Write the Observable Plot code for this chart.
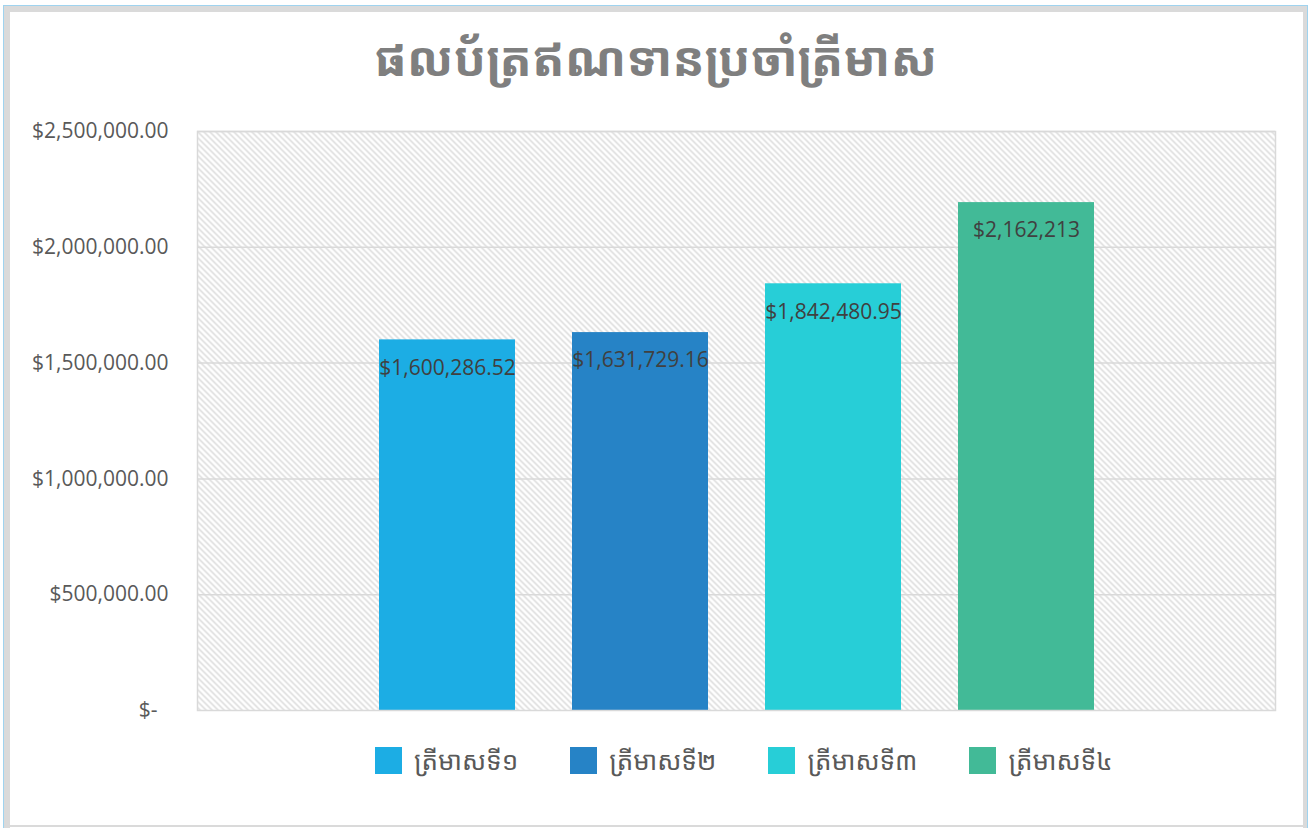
<!DOCTYPE html>
<html>
<head>
<meta charset="utf-8">
<script src="https://cdn.jsdelivr.net/npm/d3@7"></script>
<script src="https://cdn.jsdelivr.net/npm/@observablehq/plot@0.6"></script>
<style>
  html, body { margin: 0; padding: 0; background: #fff; }
  #wrap { position: relative; width: 1311px; height: 828px; overflow: hidden; font-family: "Open Sans", "Noto Sans", sans-serif; }
  #outer { position: absolute; left: 3px; top: 5px; width: 1305px; height: 830px; border-left: 1px solid #9fd3ef; border-top: 1px solid #9fd3ef; border-right: 1px solid #9fd3ef; box-sizing: border-box; }
  #inner { position: absolute; left: 0; top: 0; right: 0; bottom: 0; border-left: 6px solid #dadada; border-top: 6px solid #dadada; border-right: 4px solid #dadada; box-sizing: border-box; }
  #bottomline { position: absolute; left: 4px; top: 825px; width: 1300px; height: 2px; background: #dadada; }
  #chart { position: absolute; left: 0; top: 0; }
  #title { position: absolute; left: 0; width: 1311px; top: 24px; text-align: center; font-size: 48px; font-weight: bold; color: #7f7f7f; line-height: 68px; font-family: "Noto Sans Khmer", "Khmer OS", "Noto Sans", "DejaVu Sans", sans-serif; }
  #legend { position: absolute; left: 375px; top: 737px; display: flex; align-items: center; gap: 52px; font-size: 26px; color: #595959; font-family: "Noto Sans Khmer", "Khmer OS", "Noto Sans", "DejaVu Sans", sans-serif; }
  .item { display: flex; align-items: center; gap: 12px; height: 46px; }
  .sw { width: 27px; height: 27px; }
</style>
</head>
<body>
<div id="wrap">
  <div id="outer"><div id="inner"></div></div>
  <div id="bottomline"></div>
  <div id="chart"></div>
  <div id="title"></div>
  <div id="legend"></div>
</div>
<script>
const title = "ផលប័ត្រឥណទានប្រចាំត្រីមាស";
const quarters = ["ត្រីមាសទី១", "ត្រីមាសទី២", "ត្រីមាសទី៣", "ត្រីមាសទី៤"];
const values = [1600286.52, 1631729.16, 1842480.95, 2193000];
const valueLabels = ["$1,600,286.52", "$1,631,729.16", "$1,842,480.95", "$2,162,213"];
const colors = ["#1CADE4", "#2683C6", "#27CED7", "#42BA97"];
const yTicks = [0, 500000, 1000000, 1500000, 2000000, 2500000];
const yTickLabels = ["$-", "$500,000.00", "$1,000,000.00", "$1,500,000.00", "$2,000,000.00", "$2,500,000.00"];

const data = quarters.map((q, i) => ({q, v: values[i], label: valueLabels[i]}));

document.getElementById("title").textContent = title;

const chart = Plot.plot({
  width: 1311,
  height: 828,
  marginTop: 131,
  marginBottom: 118,
  marginLeft: 197,
  marginRight: 36,
  style: {background: "transparent", fontFamily: "'Open Sans', sans-serif", overflow: "visible"},
  x: {domain: quarters, range: [378, 1094], paddingInner: 0.297, paddingOuter: 0, axis: null},
  y: {domain: [0, 2500000], ticks: yTicks, axis: null},
  color: {domain: quarters, range: colors},
  marks: [
    Plot.frame({fill: "url(#hatch)", stroke: null}),
    Plot.ruleY(yTicks.slice(1), {stroke: "#d9d9d9", strokeWidth: 1.5}),
    Plot.barY(data, {x: "q", y: "v", fill: "q"}),
    Plot.frame({stroke: "#d9d9d9", strokeWidth: 1.5}),
    Plot.axisY({
      ticks: yTicks,
      tickSize: 0,
      tickPadding: 29,
      label: null,
      tickFormat: d => { const s = yTickLabels[yTicks.indexOf(d)]; return d === 0 ? s + "\u00a0\u00a0" : s; },
      fontSize: 21,
      color: "#595959"
    }),
    Plot.text(data, {x: "q", y: "v", text: "label", dy: 28, fontSize: 21, fill: "#404040"})
  ]
});

// hatch pattern for the plot area
const svgNS = "http://www.w3.org/2000/svg";
const defs = document.createElementNS(svgNS, "defs");
defs.innerHTML = `<pattern id="hatch" patternUnits="userSpaceOnUse" width="6" height="6">
  <rect width="6" height="6" fill="#ffffff"/>
  <path d="M-1,5 L1,7 M0,0 L6,6 M5,-1 L7,1" stroke="#d9d9d9" stroke-width="1.5"/>
</pattern>`;
chart.insertBefore(defs, chart.firstChild);
chart.querySelectorAll("text").forEach(t => { t.style.fontFamily = "'Open Sans', sans-serif"; });
document.getElementById("chart").appendChild(chart);

const legend = document.getElementById("legend");
quarters.forEach((q, i) => {
  const item = document.createElement("div");
  item.className = "item";
  const sw = document.createElement("div");
  sw.className = "sw";
  sw.style.background = colors[i];
  const lab = document.createElement("span");
  lab.textContent = q;
  item.appendChild(sw);
  item.appendChild(lab);
  legend.appendChild(item);
});
</script>
</body>
</html>
